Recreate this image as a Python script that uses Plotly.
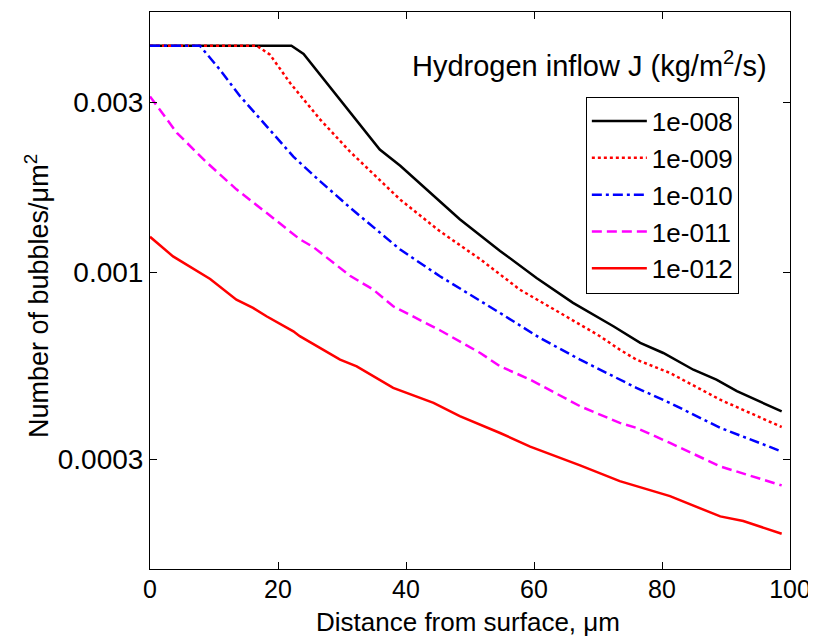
import plotly.graph_objects as go

# ---- data ----
x_j8 = [0, 22.1, 24.0, 29.7, 31.25, 35.9, 39.1, 45.3, 48.4, 54.7, 60.4, 66.1, 72.4, 76.6, 80.2, 84.9, 88.5, 91.7, 98.7]
y_j8 = [0.00431, 0.00431, 0.00409, 0.00305, 0.00282, 0.00221, 0.00199, 0.00158, 0.00141, 0.00115, 0.000966, 0.000823,
        0.000708, 0.000636, 0.000596, 0.000535, 0.000502, 0.000466, 0.000409]

x_j9 = [0, 16.7, 18.75, 21.9, 26.6, 31.25, 39.1, 45.3, 51.6, 57.8, 64.1, 70.3, 73.4, 76.0, 81.25, 89.1, 98.7]
y_j9 = [0.00431, 0.00431, 0.00407, 0.00339, 0.00268, 0.00218, 0.0016, 0.001305, 0.00109, 0.000896, 0.000771, 0.000664,
        0.000609, 0.000571, 0.000524, 0.000441, 0.00037]

x_j10 = [0, 7.8, 10.9, 14.1, 18.2, 22.4, 26.6, 31.25, 39.1, 45.3, 54.7, 60.9, 67.2, 73.4, 76.0, 81.25, 89.1, 98.7]
y_j10 = [0.00431, 0.00431, 0.0037, 0.00311, 0.00257, 0.00211, 0.0018, 0.00152, 0.00116, 0.000977, 0.000771, 0.000657,
         0.000571, 0.000502, 0.000476, 0.000432, 0.000368, 0.000316]

x_j11 = [0, 4.2, 8.9, 13.5, 18.2, 23.4, 25.5, 31.25, 34.9, 38.0, 45.3, 51.6, 54.7, 59.4, 67.2, 73.4, 76.0, 81.25, 89.1, 98.7]
y_j11 = [0.00311, 0.00246, 0.00203, 0.00171, 0.00147, 0.00124, 0.00118, 0.00098, 0.000896, 0.000805, 0.00069, 0.000596,
         0.000547, 0.000502, 0.000423, 0.00038, 0.000368, 0.000334, 0.000287, 0.000254]

x_j12 = [0, 3.6, 9.4, 13.5, 16.1, 18.2, 22.4, 23.4, 29.7, 32.3, 38.0, 44.3, 48.4, 54.7, 59.4, 67.2, 73.4, 81.25, 89.1, 92.7, 98.7]
y_j12 = [0.00126, 0.00111, 0.00096, 0.00084, 0.000797, 0.000755, 0.000685, 0.000664, 0.000571, 0.000547, 0.000476,
         0.000432, 0.000397, 0.000356, 0.000326, 0.000289, 0.000261, 0.000237, 0.000208, 0.000202, 0.000186]

series_names = ["1e-008", "1e-009", "1e-010", "1e-011", "1e-012"]
x_ticks = [0, 20, 40, 60, 80, 100]
y_ticks = [0.0003, 0.001, 0.003]
y_tick_text = ["0.0003", "0.001", "0.003"]

FONT = "Liberation Sans, Arial, Helvetica, sans-serif"

styles = [
    dict(color="black", dash="solid"),
    dict(color="#ff0000", dash="3px,3px"),
    dict(color="#0000ff", dash="10px,4px,3px,4px"),
    dict(color="#ff00ff", dash="10px,5px"),
    dict(color="#ff0000", dash="solid"),
]
xs = [x_j8, x_j9, x_j10, x_j11, x_j12]
ys = [y_j8, y_j9, y_j10, y_j11, y_j12]

fig = go.Figure()
for name, xv, yv, st in zip(series_names, xs, ys, styles):
    fig.add_trace(go.Scatter(x=xv, y=yv, mode="lines", name=name,
                             line=dict(color=st["color"], dash=st["dash"], width=2.5)))

# The page body adds an 8px offset, so margins are shifted by 8px left/top.
fig.update_layout(
    width=816, height=636,
    margin=dict(l=142, r=34, t=4.3, b=74.7),
    paper_bgcolor="white", plot_bgcolor="white",
    font=dict(family=FONT, size=28, color="black"),
    showlegend=True,
    legend=dict(x=0.681, y=0.848, xanchor="left", yanchor="top",
                bordercolor="black", borderwidth=1, bgcolor="white",
                itemwidth=55, font=dict(size=26)),
    annotations=[
        dict(text="Hydrogen inflow J (kg/m<sup>2</sup>/s)", x=0.686, y=0.907,
             xref="paper", yref="paper", xanchor="center", yanchor="middle",
             showarrow=False, font=dict(size=29)),
        dict(text="Distance from surface, μm", x=0.497, y=-0.095,
             xref="paper", yref="paper", xanchor="center", yanchor="middle",
             showarrow=False, font=dict(size=26)),
        dict(text="Number of bubbles/μm<sup>2</sup>", x=-0.1766, y=0.49, textangle=-90,
             xref="paper", yref="paper", xanchor="center", yanchor="middle",
             showarrow=False, font=dict(size=27)),
    ],
)
fig.update_xaxes(range=[0, 100], tickvals=x_ticks, ticks="inside", ticklen=7, tickcolor="black",
                 showline=True, linecolor="black", linewidth=1, mirror="ticks", showgrid=False, zeroline=False,
                 automargin=False, tickfont=dict(size=25), ticklabelstandoff=-2)
fig.update_yaxes(type="log", range=[-3.829, -2.271], tickvals=y_ticks, ticktext=y_tick_text,
                 ticks="inside", ticklen=7, tickcolor="black",
                 showline=True, linecolor="black", linewidth=1, mirror="ticks", showgrid=False, zeroline=False,
                 automargin=False)

fig.write_html("out.html")
